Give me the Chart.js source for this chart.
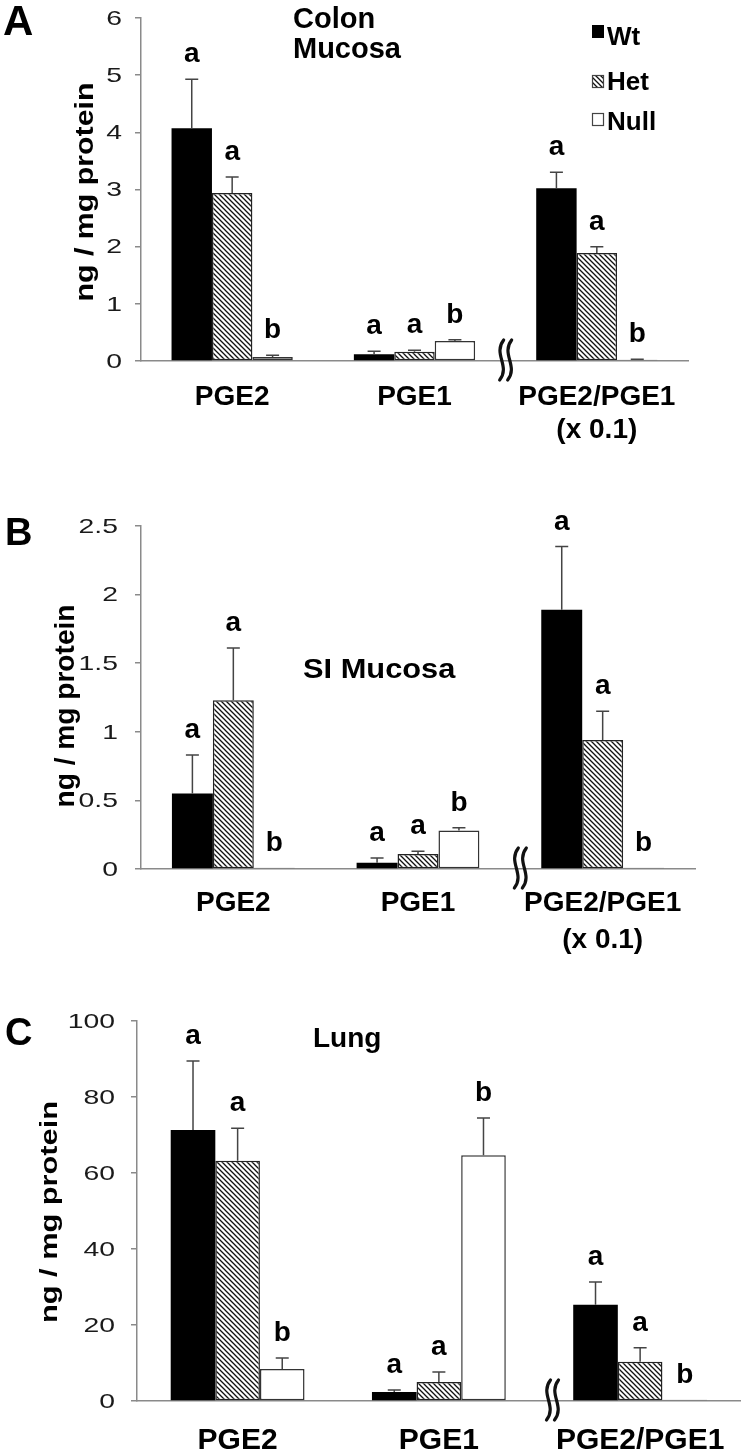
<!DOCTYPE html>
<html lang="en">
<head>
<meta charset="UTF-8">
<title>PGE2 / PGE1</title>
<script src="https://cdn.jsdelivr.net/npm/chart.js"></script>
<style>
  body { margin: 0; background: #fff; }
  canvas { position: absolute; left: 0; }
</style>
</head>
<body>
<canvas id="chartA" width="747" height="460" style="top:0px"></canvas>
<canvas id="chartB" width="747" height="500" style="top:460px"></canvas>
<canvas id="chartC" width="747" height="494" style="top:960px"></canvas>

<script>
// ---- dados ----
const grupos = ['Wt', 'Het', 'Null'];
const letrasWt = ['a', 'a', 'a'];
const letrasHet = ['a', 'a', 'a'];
const letrasNull = ['b', 'b', 'b'];

// A - colon mucosa
const colonLabels = ['PGE2', 'PGE1', ['PGE2/PGE1', '(x 0.1)']];
const colonTicks = [0, 1, 2, 3, 4, 5, 6];
const colonWt = [4.07, 0.12, 3.02];
const colonHet = [2.94, 0.16, 1.89];
const colonNull = [0.07, 0.35, 0.02];
const colonWtErr = [0.86, 0.05, 0.28];
const colonHetErr = [0.28, 0.03, 0.11];
const colonNullErr = [0.03, 0.02, 0.01];

// B - SI mucosa
const siLabels = ['PGE2', 'PGE1', ['PGE2/PGE1', '(x 0.1)']];
const siTicks = [0, 0.5, 1, 1.5, 2, 2.5];
const siWt = [0.55, 0.045, 1.89];
const siHet = [1.23, 0.11, 0.94];
const siNull = [0.01, 0.28, 0.01];
const siWtErr = [0.28, 0.035, 0.46];
const siHetErr = [0.38, 0.02, 0.21];
const siNullErr = [0, 0.02, 0];

// C - lung
const lungLabels = ['PGE2', 'PGE1', 'PGE2/PGE1'];
const lungTicks = [0, 20, 40, 60, 80, 100];
const lungWt = [71.3, 2.4, 25.3];
const lungHet = [63.2, 5.0, 10.3];
const lungNull = [8.4, 64.7, 0.3];
const lungWtErr = [18.2, 0.5, 6.0];
const lungHetErr = [8.6, 2.6, 3.7];
const lungNullErr = [2.9, 9.8, 0];

const FONTE = '"Liberation Sans", Arial, Helvetica, sans-serif';

// padrao listrado do Het
function listrado() {
  const s = 5;
  const c = document.createElement('canvas');
  c.width = s; c.height = s;
  const g = c.getContext('2d');
  g.fillStyle = '#fff';
  g.fillRect(0, 0, s, s);
  g.strokeStyle = '#111';
  g.lineWidth = 1.3;
  g.beginPath();
  g.moveTo(0, 0); g.lineTo(s, s);
  g.moveTo(-1, s - 1); g.lineTo(1, s + 1);
  g.moveTo(s - 1, -1); g.lineTo(s + 1, 1);
  g.stroke();
  return g.createPattern(c, 'repeat');
}
const hatch = listrado();

// desenha barras de erro, letras, titulos, legenda etc
const extras = {
  id: 'extras',
  afterDatasetsDraw(chart, args, o) {
    const ctx = chart.ctx;
    const ys = chart.scales.y;
    ctx.save();
    chart.data.datasets.forEach((ds, i) => {
      const meta = chart.getDatasetMeta(i);
      meta.data.forEach((bar, j) => {
        const x = bar.x;
        const topo = ys.getPixelForValue(ds.data[j]);
        let yErr = topo;
        if (ds.erros[j] > 0) {
          yErr = ys.getPixelForValue(ds.data[j] + ds.erros[j]);
          ctx.strokeStyle = '#444';
          ctx.lineWidth = 1.5;
          ctx.beginPath();
          ctx.moveTo(x, topo);
          ctx.lineTo(x, yErr);
          ctx.moveTo(x - 6.5, yErr);
          ctx.lineTo(x + 6.5, yErr);
          ctx.stroke();
        }
        ctx.fillStyle = '#000';
        ctx.font = 'bold 28px ' + FONTE;
        ctx.textAlign = 'center';
        ctx.textBaseline = 'alphabetic';
        ctx.fillText(ds.letras[j], x, yErr - 17);
      });
    });
    ctx.restore();
  },
  afterDraw(chart, args, o) {
    const ctx = chart.ctx;
    const ys = chart.scales.y;
    const xs = chart.scales.x;
    const area = chart.chartArea;
    ctx.save();

    // numeros do eixo y (esticados na horizontal como no original)
    ctx.fillStyle = '#1a1a1a';
    ctx.font = '21px ' + FONTE;
    ctx.textAlign = 'right';
    ctx.textBaseline = 'middle';
    o.ticks.forEach(v => {
      const py = ys.getPixelForValue(v);
      ctx.save();
      ctx.translate(area.left - o.tickGap, py + 1);
      ctx.scale(1.35, 1);
      ctx.fillText(String(v), 0, 0);
      ctx.restore();
    });

    // titulo do eixo y
    ctx.fillStyle = '#000';
    ctx.font = 'bold ' + o.yTitleSize + 'px ' + FONTE;
    ctx.textAlign = 'center';
    ctx.textBaseline = 'alphabetic';
    const tit = 'ng / mg protein';
    const w = ctx.measureText(tit).width;
    ctx.save();
    ctx.translate(o.yTitleX, o.yTitleY);
    ctx.rotate(-Math.PI / 2);
    ctx.scale(o.yTitleLen / w, 1);
    ctx.fillText(tit, 0, 0);
    ctx.restore();

    // letra do painel
    ctx.font = 'bold ' + o.letraSize + 'px ' + FONTE;
    ctx.textAlign = 'left';
    ctx.fillText(o.letra, o.letraX, o.letraY);

    // titulo do painel
    ctx.font = 'bold ' + o.tituloSize + 'px ' + FONTE;
    o.titulo.forEach((linha, k) => {
      ctx.save();
      ctx.translate(o.tituloX, o.tituloY[k]);
      ctx.scale(o.tituloStretch, 1);
      ctx.fillText(linha, 0, 0);
      ctx.restore();
    });

    // quebra do eixo
    const bx = (xs.getPixelForValue(1) + xs.getPixelForValue(2)) / 2 + o.breakOffset;
    const by = area.bottom - 1;
    ctx.strokeStyle = '#111';
    ctx.lineWidth = 3.2;
    ctx.lineCap = 'round';
    for (let k = 0; k < 2; k++) {
      const x0 = bx - 4 + k * 8;
      ctx.beginPath();
      ctx.moveTo(x0 + 2, by - 20);
      ctx.bezierCurveTo(x0 - 9, by - 6, x0 + 9, by + 6, x0 - 2, by + 20);
      ctx.stroke();
    }

    // legenda
    if (o.legenda) {
      const quad = [25, 75, 113];
      const base = [45, 90, 130];
      chart.data.datasets.forEach((ds, i) => {
        ctx.fillStyle = ds.backgroundColor;
        ctx.fillRect(592, quad[i], 12, 13);
        if (i > 0) {
          ctx.strokeStyle = '#444';
          ctx.lineWidth = 1.2;
          ctx.strokeRect(592.5, quad[i] + 0.5, 11, 12);
        }
        ctx.fillStyle = '#000';
        ctx.font = 'bold 26px ' + FONTE;
        ctx.textAlign = 'left';
        ctx.fillText(ds.label, 607, base[i]);
      });
    }
    ctx.restore();
  }
};

function criarGrafico(id, labels, ticks, wt, het, nul, errs, lay, fonteX, extrasOpts) {
  const canvas = document.getElementById(id);
  const W = canvas.width, H = canvas.height;
  extrasOpts.ticks = ticks;
  return new Chart(canvas, {
    type: 'bar',
    data: {
      labels: labels,
      datasets: [
        { label: grupos[0], data: wt, erros: errs[0], letras: letrasWt,
          backgroundColor: '#000', borderColor: '#000', borderWidth: 0 },
        { label: grupos[1], data: het, erros: errs[1], letras: letrasHet,
          backgroundColor: hatch, borderColor: '#222', borderWidth: 1.5, borderSkipped: false },
        { label: grupos[2], data: nul, erros: errs[2], letras: letrasNull,
          backgroundColor: '#fff', borderColor: '#333', borderWidth: 1.5, borderSkipped: false }
      ]
    },
    options: {
      responsive: false,
      animation: false,
      layout: { padding: { left: 0, right: W - lay.right, top: lay.top, bottom: 0 } },
      datasets: { bar: { barPercentage: 1, categoryPercentage: 0.665 } },
      plugins: {
        legend: { display: false },
        tooltip: { enabled: false },
        extras: extrasOpts
      },
      scales: {
        x: {
          grid: { display: false, drawTicks: false },
          border: { color: '#8a8a8a', width: 1.5 },
          ticks: {
            color: '#000', padding: fonteX.padding, maxRotation: 0, autoSkip: false,
            font: { family: FONTE, size: fonteX.size, weight: 'bold', lineHeight: fonteX.lh }
          },
          afterFit: s => { s.height = H - lay.bottom; }
        },
        y: {
          min: ticks[0],
          max: ticks[ticks.length - 1],
          ticks: { stepSize: ticks[1] - ticks[0], display: false },
          grid: { drawOnChartArea: false, drawTicks: true, tickLength: 6, color: '#8a8a8a', lineWidth: 1.5 },
          border: { color: '#8a8a8a', width: 1.5 },
          afterFit: s => { s.width = lay.left; }
        }
      }
    },
    plugins: [extras]
  });
}

criarGrafico('chartA', colonLabels, colonTicks, colonWt, colonHet, colonNull,
  [colonWtErr, colonHetErr, colonNullErr],
  { left: 141, right: 688, top: 18, bottom: 361 },
  { size: 28, lh: 33 / 28, padding: 20 },
  { tickGap: 19, yTitleX: 93, yTitleY: 192, yTitleSize: 25, yTitleLen: 219,
    letra: 'A', letraSize: 42, letraX: 3, letraY: 35,
    titulo: ['Colon', 'Mucosa'], tituloX: 293, tituloY: [28, 58], tituloSize: 29, tituloStretch: 1,
    breakOffset: 0, legenda: true });

criarGrafico('chartB', siLabels, siTicks, siWt, siHet, siNull,
  [siWtErr, siHetErr, siNullErr],
  { left: 141, right: 695, top: 66, bottom: 409 },
  { size: 28, lh: 37 / 28, padding: 16 },
  { tickGap: 23, yTitleX: 74, yTitleY: 246, yTitleSize: 27, yTitleLen: 203,
    letra: 'B', letraSize: 38, letraX: 5, letraY: 85,
    titulo: ['SI Mucosa'], tituloX: 303, tituloY: [218], tituloSize: 28, tituloStretch: 1.1,
    breakOffset: 10, legenda: false });

criarGrafico('chartC', lungLabels, lungTicks, lungWt, lungHet, lungNull,
  [lungWtErr, lungHetErr, lungNullErr],
  { left: 137, right: 743, top: 61, bottom: 441 },
  { size: 30, lh: 1.2, padding: 22 },
  { tickGap: 22, yTitleX: 57, yTitleY: 252, yTitleSize: 24, yTitleLen: 222,
    letra: 'C', letraSize: 38, letraX: 5, letraY: 85,
    titulo: ['Lung'], tituloX: 313, tituloY: [87], tituloSize: 28, tituloStretch: 1,
    breakOffset: 13, legenda: false });
</script>
</body>
</html>
